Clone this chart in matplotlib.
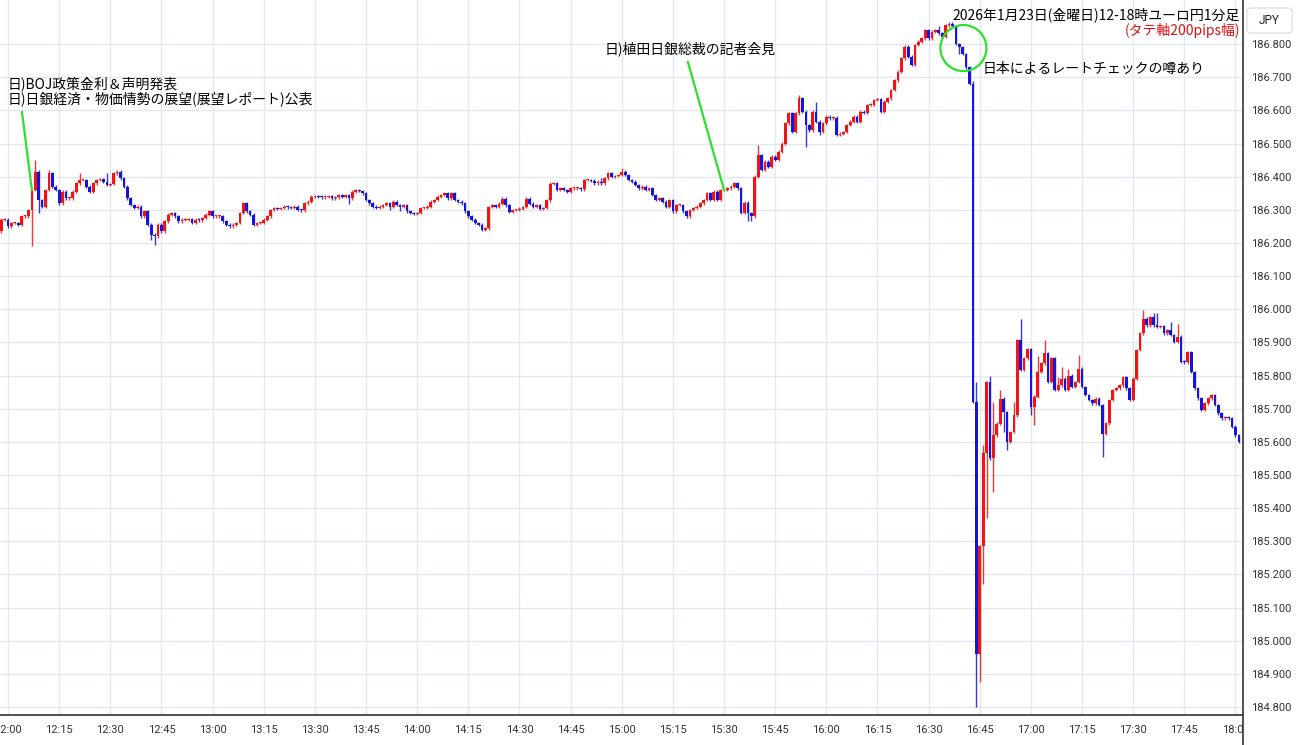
import matplotlib.pyplot as plt
from matplotlib.patches import Ellipse, Rectangle, FancyBboxPatch
from matplotlib.lines import Line2D

plt.rcParams['font.family'] = ['Noto Sans CJK JP', 'DejaVu Sans']

# ユーロ円 1分足 終値 (11:58 ~ 18:01)
first_open = 186.235
close_pre = [186.27, 186.27]
close_12 = [186.25, 186.26, 186.26, 186.255, 186.28, 186.28, 186.30, 186.36, 186.415, 186.33,
            186.31, 186.36, 186.41, 186.37, 186.36, 186.32, 186.355, 186.335, 186.335, 186.355,
            186.38, 186.39, 186.39, 186.37, 186.355, 186.38, 186.39, 186.392, 186.385, 186.375,
            186.378, 186.41, 186.415, 186.395, 186.37, 186.335, 186.315, 186.305, 186.31, 186.28,
            186.295, 186.255, 186.225, 186.22, 186.255, 186.235, 186.265, 186.285, 186.29, 186.28,
            186.265, 186.27, 186.27, 186.272, 186.26, 186.27, 186.268, 186.275, 186.285, 186.295]
close_13 = [186.28, 186.28, 186.28, 186.265, 186.255, 186.25, 186.255, 186.26, 186.29, 186.32,
            186.295, 186.285, 186.255, 186.26, 186.26, 186.27, 186.28, 186.30, 186.305, 186.303,
            186.305, 186.31, 186.308, 186.305, 186.31, 186.30, 186.298, 186.32, 186.325, 186.34,
            186.341, 186.34, 186.338, 186.34, 186.342, 186.335, 186.338, 186.345, 186.34, 186.345,
            186.335, 186.355, 186.36, 186.357, 186.35, 186.33, 186.32, 186.31, 186.305, 186.31,
            186.315, 186.32, 186.31, 186.325, 186.315, 186.31, 186.315, 186.295, 186.29, 186.288]
close_14 = [186.29, 186.305, 186.305, 186.31, 186.325, 186.33, 186.34, 186.345, 186.35, 186.335,
            186.35, 186.33, 186.325, 186.32, 186.295, 186.28, 186.27, 186.26, 186.255, 186.24,
            186.244, 186.309, 186.314, 186.309, 186.319, 186.334, 186.314, 186.294, 186.299, 186.299,
            186.304, 186.309, 186.334, 186.319, 186.309, 186.314, 186.304, 186.305, 186.329, 186.379,
            186.381, 186.36, 186.365, 186.36, 186.355, 186.365, 186.365, 186.366, 186.362, 186.39,
            186.39, 186.388, 186.38, 186.385, 186.38, 186.395, 186.41, 186.40, 186.402, 186.405]
close_15 = [186.415, 186.405, 186.39, 186.385, 186.375, 186.365, 186.37, 186.36, 186.365, 186.345,
            186.33, 186.335, 186.325, 186.31, 186.33, 186.295, 186.315, 186.315, 186.295, 186.28,
            186.30, 186.305, 186.31, 186.32, 186.33, 186.35, 186.33, 186.355, 186.33, 186.36,
            186.36, 186.365, 186.37, 186.38, 186.365, 186.29, 186.322, 186.29, 186.28, 186.40,
            186.465, 186.42, 186.445, 186.43, 186.46, 186.45, 186.475, 186.50, 186.561, 186.591,
            186.536, 186.591, 186.636, 186.596, 186.556, 186.54, 186.596, 186.566, 186.536, 186.561]
close_16 = [186.581, 186.576, 186.578, 186.527, 186.53, 186.535, 186.556, 186.566, 186.581, 186.565,
            186.596, 186.592, 186.616, 186.617, 186.631, 186.633, 186.595, 186.626, 186.636, 186.661,
            186.691, 186.717, 186.757, 186.792, 186.762, 186.737, 186.797, 186.807, 186.817, 186.842,
            186.817, 186.837, 186.842, 186.832, 186.822, 186.857, 186.862, 186.855, 186.80, 186.79,
            186.77, 186.73, 186.68, 185.72, 184.96, 185.285, 185.566, 185.78, 185.55, 185.62,
            185.655, 185.73, 185.69, 185.60, 185.63, 185.68, 185.907, 185.817, 185.852, 185.88]
close_17 = [185.706, 185.736, 185.811, 185.837, 185.867, 185.781, 185.852, 185.756, 185.771, 185.791,
            185.756, 185.80, 185.766, 185.781, 185.821, 185.766, 185.741, 185.726, 185.716, 185.73,
            185.711, 185.625, 185.656, 185.726, 185.756, 185.761, 185.771, 185.796, 185.761, 185.726,
            185.791, 185.877, 185.927, 185.972, 185.952, 185.977, 185.952, 185.947, 185.95, 185.927,
            185.937, 185.922, 185.902, 185.917, 185.842, 185.84, 185.87, 185.811, 185.761, 185.731,
            185.696, 185.716, 185.731, 185.741, 185.711, 185.686, 185.671, 185.675, 185.671, 185.646]
close_18 = [185.62, 185.60]

# 目立つヒゲ (分: 値)
wick_high = {8: 186.45, 12: 186.42, 21: 186.41, 29: 186.41, 33: 186.42, 174: 186.395, 180: 186.425,
             220: 186.495, 232: 186.645, 237: 186.626, 273: 186.855, 283: 186.69, 284: 185.78,
             286: 185.59, 288: 185.80, 289: 185.72, 291: 185.755, 295: 185.72, 297: 185.97,
             302: 185.86, 304: 185.907, 308: 185.795, 309: 185.826, 311: 185.82, 314: 185.862,
             333: 185.997, 336: 185.99, 337: 185.99, 341: 185.962, 343: 185.957}
wick_low = {7: 186.19, 9: 186.29, 42: 186.21, 43: 186.195, 100: 186.318, 112: 186.30, 115: 186.295,
            199: 186.275, 217: 186.265, 218: 186.265, 234: 186.49, 238: 186.525, 279: 186.77,
            284: 184.80, 285: 184.875, 286: 185.17, 287: 185.37, 289: 185.45, 292: 185.63,
            293: 185.575, 300: 185.68, 301: 185.65, 321: 185.555}

time_labels = ["12:00", "12:15", "12:30", "12:45", "13:00", "13:15", "13:30", "13:45", "14:00",
               "14:15", "14:30", "14:45", "15:00", "15:15", "15:30", "15:45", "16:00", "16:15",
               "16:30", "16:45", "17:00", "17:15", "17:30", "17:45", "18:00"]
price_ticks = [184.8, 184.9, 185.0, 185.1, 185.2, 185.3, 185.4, 185.5, 185.6, 185.7,
               185.8, 185.9, 186.0, 186.1, 186.2, 186.3, 186.4, 186.5, 186.6, 186.7, 186.8]

closes = close_pre + close_12 + close_13 + close_14 + close_15 + close_16 + close_17 + close_18
minutes = list(range(-2, -2 + len(closes)))
opens = [first_open] + closes[:-1]

RED = '#f01414'
BLUE = '#1414dc'
GREEN = '#2ee02e'

fig = plt.figure(figsize=(13, 7.45), dpi=100)
W, H = 1300, 745
ax = fig.add_axes([0, 1 - 715 / H, 1243 / W, 715 / H])

pad = 0.004
for t, o, c in zip(minutes, opens, closes):
    col = RED if c >= o else BLUE
    top, bot = max(o, c), min(o, c)
    hi = wick_high.get(t, top + pad)
    lo = wick_low.get(t, bot - pad)
    ax.vlines(t, lo, hi, color=col, lw=1, alpha=0.85, zorder=3)
    ax.bar(t, max(top - bot, 0.003), bottom=bot, width=0.8, color=col, lw=0, zorder=4)

ax.set_xlim(-2.35, 362.2)
ax.set_ylim(184.776, 186.933)
ax.set_xticks([15 * i for i in range(len(time_labels))])
ax.set_xticklabels(time_labels, fontsize=8, family='Roboto', color='#333333')
ax.yaxis.tick_right()
ax.set_yticks(price_ticks)
ax.set_yticklabels(['%.3f' % p for p in price_ticks], fontsize=8, family='Roboto', color='#333333')
ax.tick_params(axis='both', length=0)
ax.tick_params(axis='x', pad=7)
ax.tick_params(axis='y', pad=6)
ax.grid(True, color='#e3e8ef', lw=1, zorder=0)
for s in ['left', 'top', 'right']:
    ax.spines[s].set_visible(False)
ax.spines['bottom'].set_color('#333333')
ax.spines['bottom'].set_linewidth(1.2)

# 右側の価格欄 (18:00ラベルを隠す)
fig.add_artist(Rectangle((1243.5 / W, 0), (W - 1243.5) / W, 28 / H, transform=fig.transFigure,
                         facecolor='white', edgecolor='none', zorder=5))
fig.add_artist(Line2D([1243 / W, 1243 / W], [0, 1], transform=fig.transFigure,
                      color='#333333', lw=1.2, zorder=6))
fig.add_artist(FancyBboxPatch((1247 / W, 1 - 33 / H), 45 / W, 25 / H, transform=fig.transFigure,
                              boxstyle='round,pad=0,rounding_size=0.004', facecolor='white',
                              edgecolor='#e0e0e0', lw=1, zorder=6))
fig.text(1269 / W, 1 - 20 / H, 'JPY', ha='center', va='center', fontsize=8.5, family='Roboto',
         color='#222222', zorder=7)

# 注記
ax.plot([4.1, 7], [186.595, closes[minutes.index(7)]], color=GREEN, lw=1.6, zorder=6)
ax.plot([199.4, 210], [186.746, closes[minutes.index(210)]], color=GREEN, lw=1.6, zorder=6)
ax.add_patch(Ellipse((280.2, 186.788), 13.5, 0.139, fill=False, edgecolor=GREEN, lw=1.6, zorder=6))

fig.text(8 / W, 1 - 84 / H, '日)BOJ政策金利＆声明発表', fontsize=10, va='center', ha='left')
fig.text(8 / W, 1 - 99 / H, '日)日銀経済・物価情勢の展望(展望レポート)公表', fontsize=10, va='center', ha='left')
fig.text(605 / W, 1 - 49 / H, '日)植田日銀総裁の記者会見', fontsize=10, va='center', ha='left')
fig.text(983 / W, 1 - 69 / H, '日本によるレートチェックの噂あり', fontsize=10, va='center', ha='left')
fig.text(1240 / W, 1 - 15 / H, '2026年1月23日(金曜日)12-18時ユーロ円1分足', fontsize=10,
         va='center', ha='right')
fig.text(1240 / W, 1 - 31 / H, '(タテ軸200pips幅)', fontsize=10, va='center', ha='right',
         color='#e01010')

fig.savefig('out.png', dpi=100)
